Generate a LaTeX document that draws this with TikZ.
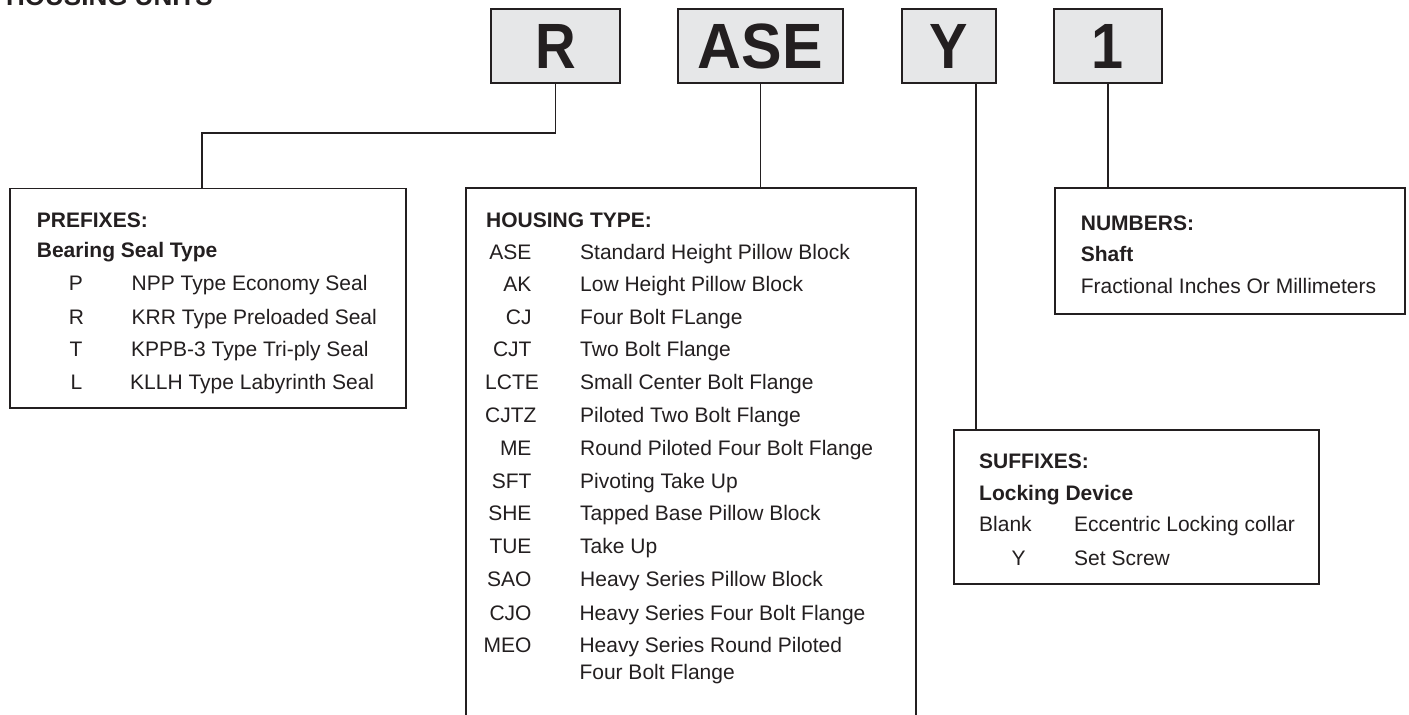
\documentclass[tikz,border=0pt]{standalone}
\usepackage{fontspec}
\setmainfont{Liberation Sans}
\definecolor{ink}{HTML}{231F20}
\definecolor{boxgray}{HTML}{E6E7E8}
\tikzset{
  codebox/.style={draw=ink, line width=1.8pt, fill=boxgray, minimum height=74pt, inner sep=0pt, text=ink,
    font=\fontsize{64}{64}\selectfont\bfseries},
  infobox/.style={draw=ink, line width=1.8pt, fill=white, inner sep=0pt, anchor=north west},
  conn/.style={draw=ink, line width=1.8pt},
  txt/.style={inner sep=0pt, text=ink, font=\fontsize{21}{25}\selectfont},
  hd/.style={txt, font=\fontsize{21}{25}\selectfont\bfseries},
  bw/.style={anchor=base west},
  be/.style={anchor=base east},
  bc/.style={anchor=base}
}
\begin{document}
\begin{tikzpicture}[x=1pt, y=-1pt]
\useasboundingbox (0,0) rectangle (1409,715);
\clip (0,0) rectangle (1409,715);
\fill[white] (0,0) rectangle (1409,715);

% title
\node[hd, bw, font=\fontsize{26}{30}\selectfont\bfseries] (title) at (6,5.5) {HOUSING UNITS};

% code boxes
\node[codebox, minimum width=129pt] (R) at (555.5,46) {\scalebox{0.88}[1]{R}};
\node[codebox, minimum width=165pt] (ASE) at (760.5,46) {\scalebox{0.95}[1]{ASE}};
\node[codebox, minimum width=94pt] (Y) at (949,46) {\scalebox{0.9}[1]{Y}};
\node[codebox, minimum width=108pt] (one) at (1108,46) {\scalebox{0.9}[1]{1}};

% info boxes
\node[infobox, minimum width=396pt, minimum height=219.5pt] (pref) at (9,187.5) {};
\node[infobox, minimum width=450pt, minimum height=560pt] (house) at (465,187) {};
\node[infobox, minimum width=350pt, minimum height=126pt] (num) at (1054,187) {};
\node[infobox, minimum width=365pt, minimum height=154pt] (suf) at (953,429) {};

% connectors
\coordinate (pk) at (202,187.5);
\coordinate (yk) at (976,83);
\draw[conn] (R.south) -- (R.south |- 0,133) -| (pk);
\draw[conn] (ASE.south) -- (ASE.south |- house.north);
\draw[conn] (yk) -- (yk |- suf.north);
\draw[conn] (one.south) -- (one.south |- num.north);

% PREFIXES
\node[hd, bw] (p0) at (36.7,227.7) {PREFIXES:};
\node[hd, bw] (p1) at (36.7,257.5) {Bearing Seal Type};
\node[txt, bc] (pc1) at (76,290.7) {P};
\node[txt, bw] (pd1) at (131.5,290.7) {NPP Type Economy Seal};
\node[txt, bc] (pc2) at (76.5,324) {R};
\node[txt, bw] (pd2) at (131.5,324) {KRR Type Preloaded Seal};
\node[txt, bc] (pc3) at (76,356.7) {T};
\node[txt, bw] (pd3) at (131,356.7) {KPPB-3 Type Tri-ply Seal};
\node[txt, bc] (pc4) at (76.5,389) {L};
\node[txt, bw] (pd4) at (130,389) {KLLH Type Labyrinth Seal};

% HOUSING TYPE
\node[hd, bw] (h0) at (486,227.7) {HOUSING TYPE:};
\node[txt, be] (hc1) at (531.7,259.3) {ASE};
\node[txt, bw] (hd1) at (580,259.3) {Standard Height Pillow Block};
\node[txt, be] (hc2) at (531.7,291.5) {AK};
\node[txt, bw] (hd2) at (580,291.5) {Low Height Pillow Block};
\node[txt, be] (hc3) at (531.7,324) {CJ};
\node[txt, bw] (hd3) at (580,324) {Four Bolt FLange};
\node[txt, be] (hc4) at (531.7,356.7) {CJT};
\node[txt, bw] (hd4) at (580,356.7) {Two Bolt Flange};
\node[txt, bw] (hc5) at (485,389.3) {LCTE};
\node[txt, bw] (hd5) at (580,389.3) {Small Center Bolt Flange};
\node[txt, bw] (hc6) at (485,422.5) {CJTZ};
\node[txt, bw] (hd6) at (580,422.5) {Piloted Two Bolt Flange};
\node[txt, be] (hc7) at (531.7,455.3) {ME};
\node[txt, bw] (hd7) at (580,455.3) {Round Piloted Four Bolt Flange};
\node[txt, be] (hc8) at (531.7,488.3) {SFT};
\node[txt, bw] (hd8) at (580,488.3) {Pivoting Take Up};
\node[txt, be] (hc9) at (531.7,520.7) {SHE};
\node[txt, bw] (hd9) at (580,520.7) {Tapped Base Pillow Block};
\node[txt, be] (hc10) at (531.7,553.3) {TUE};
\node[txt, bw] (hd10) at (580,553.3) {Take Up};
\node[txt, be] (hc11) at (531.7,586) {SAO};
\node[txt, bw] (hd11) at (580,586) {Heavy Series Pillow Block};
\node[txt, be] (hc12) at (531.7,620) {CJO};
\node[txt, bw] (hd12) at (579.3,620) {Heavy Series Four Bolt Flange};
\node[txt, be] (hc13) at (531.7,652.7) {MEO};
\node[txt, bw] (hd13) at (579.3,652.7) {Heavy Series Round Piloted};
\node[txt, bw] (hd14) at (579.3,679.3) {Four Bolt Flange};

% NUMBERS
\node[hd, bw] (n0) at (1080.7,230.7) {NUMBERS:};
\node[hd, bw] (n1) at (1080.7,261.3) {Shaft};
\node[txt, bw] (n2) at (1080.7,293.3) {Fractional Inches Or Millimeters};

% SUFFIXES
\node[hd, bw] (s0) at (979,468.3) {SUFFIXES:};
\node[hd, bw] (s1) at (979,500) {Locking Device};
\node[txt, bw] (sc1) at (979,531.7) {Blank};
\node[txt, bw] (sd1) at (1074,531.7) {Eccentric Locking collar};
\node[txt, bc] (sc2) at (1018.5,565.7) {Y};
\node[txt, bw] (sd2) at (1074,565.7) {Set Screw};
\end{tikzpicture}
\end{document}
